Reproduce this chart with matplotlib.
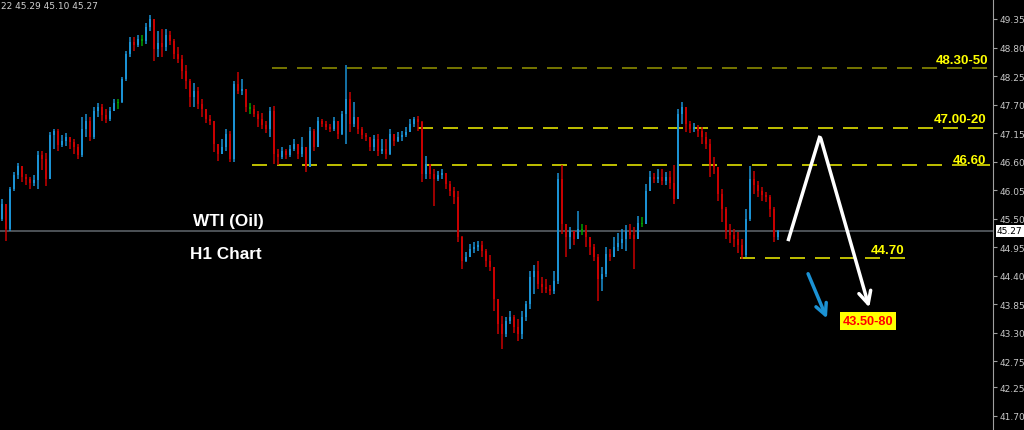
import matplotlib
matplotlib.use("Agg")
import matplotlib.pyplot as plt
import numpy as np

# WTI H1 bars (oldest -> newest)
closes = [45.79, 45.30, 46.07, 46.34, 46.52, 46.31, 46.27, 46.19, 46.25, 46.73,
          46.65, 46.27, 47.12, 47.19, 46.92, 47.00, 47.08, 46.98, 46.88, 46.73,
          47.23, 47.38, 47.08, 47.58, 47.65, 47.50, 47.42, 47.58, 47.73, 47.75,
          48.19, 48.68, 48.91, 48.85, 48.96, 48.93, 49.20, 49.35, 48.77, 48.89,
          48.81, 49.04, 48.93, 48.68, 48.58, 48.35, 48.16, 47.85, 47.96, 47.71,
          47.62, 47.42, 47.38, 46.94, 46.75, 46.88, 47.13, 46.65, 48.10, 47.96,
          48.00, 47.65, 47.62, 47.52, 47.42, 47.31, 47.23, 47.58, 46.75, 46.69,
          46.81, 46.73, 46.85, 46.94, 46.75, 46.88, 46.50, 47.19, 46.88, 47.38,
          47.33, 47.27, 47.23, 47.38, 47.13, 47.52, 47.81, 47.33, 47.46, 47.23,
          47.12, 47.08, 46.88, 47.04, 46.81, 46.85, 46.75, 47.13, 47.00, 47.08,
          47.12, 47.17, 47.33, 47.42, 47.37, 46.36, 46.56, 46.36, 46.27, 46.34,
          46.38, 46.17, 46.04, 45.92, 45.15, 44.69, 44.76, 44.92, 44.96, 45.00,
          44.88, 44.69, 44.57, 43.95, 43.47, 43.28, 43.53, 43.61, 43.42, 43.28,
          43.61, 43.86, 44.38, 44.49, 44.24, 44.19, 44.15, 44.11, 44.30, 46.27,
          45.40, 45.15, 45.27, 45.11, 45.30, 45.27, 45.15, 44.96, 44.76, 44.34,
          44.44, 44.82, 44.76, 44.96, 45.03, 45.11, 45.27, 45.19, 45.11, 45.42,
          45.40, 46.04, 46.31, 46.27, 46.31, 46.23, 46.31, 46.19, 45.88, 47.52,
          47.65, 47.33, 47.23, 47.27, 47.19, 47.08, 46.94, 46.56, 46.50, 45.98,
          45.69, 45.27, 45.19, 45.11, 45.00, 44.80, 45.50, 46.27, 46.15, 46.04,
          45.96, 45.92, 45.69, 45.15, 45.27]
highs = [45.88, 45.79, 46.11, 46.40, 46.58, 46.50, 46.36, 46.31, 46.34, 46.81,
         46.81, 46.77, 47.17, 47.23, 47.23, 47.12, 47.15, 47.08, 47.04, 46.94,
         47.46, 47.52, 47.46, 47.65, 47.73, 47.71, 47.62, 47.65, 47.81, 47.81,
         48.23, 48.73, 49.00, 49.00, 49.04, 49.04, 49.27, 49.43, 49.35, 49.12,
         49.16, 49.16, 49.12, 48.96, 48.81, 48.66, 48.46, 48.19, 48.12, 48.04,
         47.81, 47.58, 47.50, 47.38, 46.94, 47.04, 47.23, 47.19, 48.16, 48.33,
         48.19, 48.00, 47.73, 47.69, 47.58, 47.54, 47.38, 47.65, 47.67, 46.85,
         46.88, 46.85, 46.92, 47.04, 46.94, 47.08, 46.75, 47.27, 47.23, 47.46,
         47.42, 47.38, 47.33, 47.46, 47.35, 47.58, 48.46, 47.94, 47.75, 47.42,
         47.27, 47.15, 47.08, 47.12, 47.13, 47.04, 47.04, 47.23, 47.13, 47.17,
         47.19, 47.27, 47.42, 47.46, 47.48, 47.38, 46.71, 46.56, 46.46, 46.42,
         46.46, 46.38, 46.23, 46.11, 46.04, 45.17, 44.86, 45.01, 45.05, 45.07,
         45.07, 44.92, 44.80, 44.57, 43.95, 43.63, 43.61, 43.72, 43.65, 43.57,
         43.72, 43.92, 44.49, 44.61, 44.69, 44.38, 44.34, 44.22, 44.49, 46.38,
         46.54, 45.40, 45.34, 45.27, 45.65, 45.40, 45.38, 45.15, 45.01, 44.82,
         44.57, 44.96, 44.92, 45.15, 45.23, 45.30, 45.38, 45.40, 45.34, 45.55,
         45.54, 46.17, 46.42, 46.38, 46.46, 46.46, 46.40, 46.42, 46.54, 47.62,
         47.75, 47.65, 47.38, 47.35, 47.31, 47.27, 47.17, 47.04, 46.69, 46.50,
         46.07, 45.73, 45.40, 45.30, 45.25, 45.11, 45.69, 46.52, 46.42, 46.23,
         46.11, 46.02, 45.96, 45.73, 45.29]
lows = [45.46, 45.07, 45.27, 46.04, 46.27, 46.21, 46.15, 46.07, 46.13, 46.07,
        46.44, 46.13, 46.31, 46.85, 46.81, 46.88, 46.90, 46.85, 46.75, 46.65,
        46.69, 47.08, 47.00, 47.04, 47.46, 47.38, 47.35, 47.38, 47.58, 47.62,
        47.73, 48.16, 48.62, 48.73, 48.81, 48.83, 48.87, 49.12, 48.54, 48.62,
        48.62, 48.73, 48.85, 48.58, 48.50, 48.19, 48.00, 47.65, 47.65, 47.62,
        47.46, 47.35, 47.31, 46.79, 46.61, 46.75, 46.81, 46.59, 46.59, 47.90,
        47.89, 47.56, 47.52, 47.46, 47.27, 47.23, 47.15, 47.08, 46.56, 46.54,
        46.65, 46.65, 46.69, 46.81, 46.65, 46.69, 46.40, 46.50, 46.81, 46.88,
        47.27, 47.21, 47.17, 47.19, 47.04, 47.12, 46.94, 47.17, 47.27, 47.13,
        47.04, 47.00, 46.81, 46.81, 46.71, 46.75, 46.65, 46.73, 46.90, 46.98,
        47.00, 47.08, 47.19, 47.27, 47.19, 46.21, 46.27, 46.27, 45.75, 46.23,
        46.27, 46.07, 45.94, 45.79, 45.05, 44.53, 44.67, 44.80, 44.84, 44.88,
        44.76, 44.57, 44.49, 43.72, 43.28, 42.99, 43.22, 43.47, 43.30, 43.15,
        43.18, 43.53, 43.76, 44.05, 44.15, 44.07, 44.07, 44.03, 44.05, 44.24,
        45.21, 44.76, 44.92, 45.00, 45.11, 45.19, 44.96, 44.80, 44.69, 43.92,
        44.11, 44.38, 44.69, 44.76, 44.88, 44.92, 44.88, 45.11, 44.53, 45.11,
        45.34, 45.40, 46.07, 46.19, 46.19, 46.15, 46.15, 46.07, 45.79, 45.88,
        47.33, 47.17, 47.15, 47.17, 47.08, 46.94, 46.85, 46.31, 46.36, 45.84,
        45.44, 45.11, 45.03, 44.96, 44.84, 44.73, 44.76, 45.46, 45.98, 45.92,
        45.84, 45.82, 45.54, 45.05, 45.10]
first_open = 45.50
opens = [first_open] + closes[:-1]

last_price = 45.27
quote_text = "22 45.29 45.10 45.27"

tick_labels = ["49.35", "48.80", "48.25", "47.70", "47.15", "46.60", "46.05", "45.50",
               "44.95", "44.40", "43.85", "43.30", "42.75", "42.25", "41.70"]

# drawn levels: (price, start bar, end bar, colour, label)
levels = [(48.40, 67.5, 247, "#8a8a00", "48.30-50"),
          (47.24, 104, 247, "#e0e000", "47.00-20"),
          (46.53, 62.5, 247, "#e0e000", "46.60"),
          (44.74, 184.5, 226.5, "#e0e000", "44.70")]
label_pos = {"48.30-50": (246.5, 48.55), "47.00-20": (246, 47.42),
             "46.60": (246, 46.63), "44.70": (225.5, 44.90)}
target_text = "43.50-80"
target_pos = (216.5, 43.53)

white_path_x = [196.5, 204.5, 217.0]
white_path_y = [45.07, 47.10, 43.74]
blue_path_x = [201.25, 206.5]
blue_path_y = [44.49, 43.53]

up_col = "#1b92d4"
dn_col = "#c80000"
doji_col = "#00a000"

fig = plt.figure(figsize=(10.24, 4.31), dpi=100, facecolor="black")
ax = fig.add_axes([0, 0, 993 / 1024, 1])
ax.set_facecolor("black")

n = len(closes)
x = np.arange(n)
o = np.array(opens)
c = np.array(closes)
cols = []
for oo, cc in zip(o, c):
    if abs(cc - oo) < 0.035:
        cols.append(doji_col)
    elif cc > oo:
        cols.append(up_col)
    else:
        cols.append(dn_col)

ax.vlines(x, lows, highs, colors=cols, lw=1.1, zorder=3)
ax.bar(x, np.maximum(np.abs(c - o), 0.02), bottom=np.minimum(o, c), width=0.7,
       color=cols, linewidth=0, zorder=3)

# current price line
ax.axhline(last_price, color="#5a5f66", lw=1.2, zorder=1)

for price, x0, x1, col, lab in levels:
    ax.plot([x0, x1], [price, price], color=col, lw=1.2, dashes=(9, 6), zorder=2)
    lx, ly = label_pos[lab]
    ax.text(lx, ly, lab, color="#ffff00", fontsize=9.5, fontweight="bold",
            family="Liberation Sans", ha="right", va="center", zorder=5)

ax.text(target_pos[0], target_pos[1], target_text, color="#ff0000", fontsize=9.2,
        fontweight="bold", family="Liberation Sans", ha="center", va="center",
        bbox=dict(boxstyle="square,pad=0.22", fc="#ffff00", ec="none"), zorder=6)

ax.text(56.5, 45.46, "WTI (Oil)", color="white", fontsize=12.3, fontweight="bold",
        family="Liberation Sans", ha="center", va="center", zorder=5)
ax.text(56, 44.84, "H1 Chart", color="white", fontsize=12.3, fontweight="bold",
        family="Liberation Sans", ha="center", va="center", zorder=5)

# projected path
ax.plot(white_path_x[:2], white_path_y[:2], color="white", lw=2.5, zorder=6,
        solid_capstyle="butt")
ax.annotate("", xy=(white_path_x[2], white_path_y[2]), xytext=(white_path_x[1], white_path_y[1]),
            arrowprops=dict(arrowstyle="->", color="white", lw=2.5, mutation_scale=22),
            zorder=6)
ax.annotate("", xy=(blue_path_x[1], blue_path_y[1]), xytext=(blue_path_x[0], blue_path_y[0]),
            arrowprops=dict(arrowstyle="->", color="#1b92d4", lw=2.5, mutation_scale=20),
            zorder=6)

ax.set_xlim(-0.5, 247.75)
ax.set_ylim(41.43, 49.735)

for s in ["top", "left", "bottom"]:
    ax.spines[s].set_visible(False)
ax.spines["right"].set_color("#a0a0a0")
ax.set_xticks([])
ax.yaxis.tick_right()
ax.set_yticks([float(t) for t in tick_labels])
ax.set_yticklabels(tick_labels)
ax.tick_params(axis="y", colors="#a0a0a0", labelcolor="#c8c8c8", length=3, width=0.8,
               labelsize=6.5, pad=2)
for t in ax.get_yticklabels():
    t.set_family("DejaVu Sans")

# current price tag on the scale
ax.text(1.004, last_price, "45.27", transform=ax.get_yaxis_transform(), color="black",
        fontsize=6.5, ha="left", va="center",
        bbox=dict(boxstyle="square,pad=0.15", fc="white", ec="none"), clip_on=False, zorder=7)

fig.text(0.001, 0.995, quote_text, color="#d0d0d0", fontsize=6.5, ha="left", va="top")

fig.savefig("out.png", dpi=100, facecolor="black")
